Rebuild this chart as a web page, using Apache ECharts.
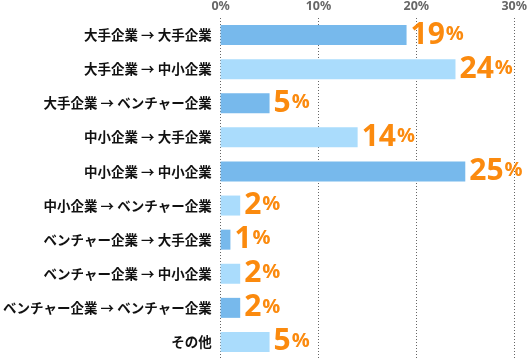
<!DOCTYPE html>
<html><head><meta charset="utf-8">
<script src="https://cdn.jsdelivr.net/npm/echarts@6/dist/echarts.min.js"></script>
<style>html,body{margin:0;padding:0;background:#fff;}#c{width:530px;height:361px;}</style>
</head><body><div id="c"></div>
<script>
const categories = ["大手企業 → 大手企業","大手企業 → 中小企業","大手企業 → ベンチャー企業","中小企業 → 大手企業","中小企業 → 中小企業","中小企業 → ベンチャー企業","ベンチャー企業 → 大手企業","ベンチャー企業 → 中小企業","ベンチャー企業 → ベンチャー企業","その他"];
const values = [19,24,5,14,25,2,1,2,2,5];
const tickLabels = ["0%","10%","20%","30%"];
const barColors = ["#77b9ec","#aadcfc"];

const chart = echarts.init(document.getElementById('c'), null, {renderer:'canvas'});
chart.setOption({
  animation:false,
  grid:{left:217,right:14,top:18,height:341,containLabel:false},
  xAxis:{type:'value',position:'top',min:0,max:30,interval:10,
    axisLine:{show:false},axisTick:{show:false},
    axisLabel:{margin:5,color:'#666',fontWeight:'bold',fontSize:12.5,fontFamily:'Noto Sans',
      formatter:(v)=>tickLabels[Math.round(v/10)]},
    splitLine:{show:true,lineStyle:{color:'#666',width:1,type:[1,2]}}},
  yAxis:{type:'category',inverse:true,data:categories,
    axisLine:{show:false},axisTick:{show:false},
    axisLabel:{margin:9,color:'#111',fontWeight:'bold',fontSize:13.5,fontFamily:'Noto Sans CJK JP'}},
  series:[{type:'bar',barWidth:20,
    data:values.map((v,i)=>({value:v,itemStyle:{color:barColors[i%2]}})),
    label:{show:true,position:'right',distance:4,
      formatter:(p)=>'{n|'+p.value+'}{p|%}',
      rich:{n:{fontSize:30,fontWeight:'bold',color:'#fb8a0e',fontFamily:'Open Sans',lineHeight:30},
            p:{fontSize:20,fontWeight:'bold',color:'#fb8a0e',fontFamily:'Open Sans',lineHeight:30,padding:[0,0,2,1]}}}
  }]
});
</script></body></html>
